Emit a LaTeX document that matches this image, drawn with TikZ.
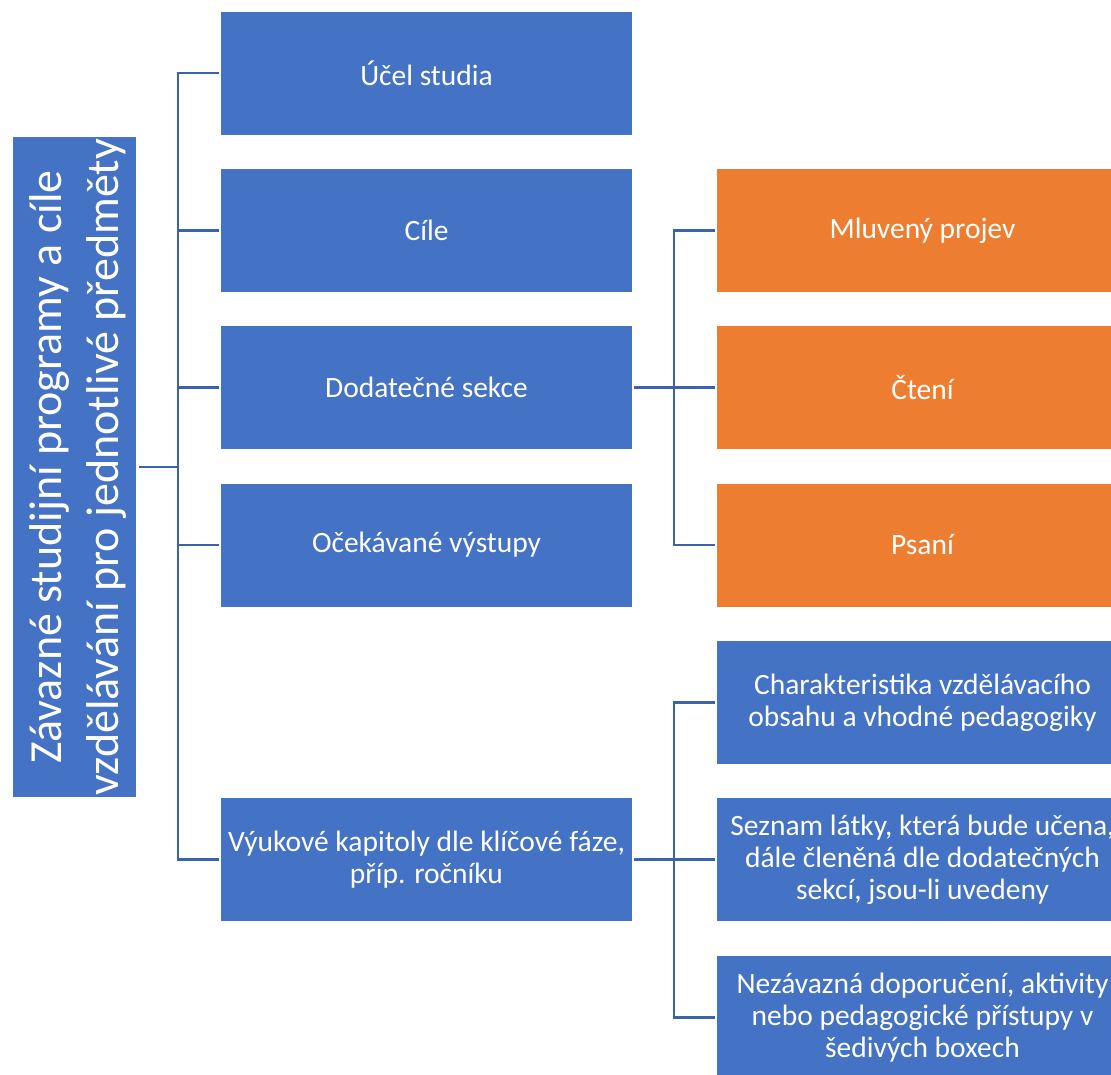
\documentclass[tikz,border=0pt]{standalone}
\usepackage{fontspec}
\setmainfont{Carlito}
\definecolor{boxblue}{HTML}{4472C4}
\definecolor{boxorange}{HTML}{ED7D31}
\definecolor{linkblue}{HTML}{3A62AD}
\begin{document}
\begin{tikzpicture}[x=1pt,y=-1pt,
  box/.style={rectangle, fill=boxblue, text=white, minimum width=411pt,
    minimum height=123pt, inner sep=0pt, align=center,
    font=\fontsize{29.5}{32}\selectfont},
  obox/.style={box, fill=boxorange},
  rootbox/.style={rectangle, fill=boxblue, minimum width=123pt,
    minimum height=660pt, inner sep=0pt},
  roottext/.style={text=white, align=center, inner sep=0pt,
    font=\fontsize{46}{57}\selectfont},
  link/.style={draw=linkblue, line width=2.3pt, shorten >=2pt}]
\useasboundingbox (0,0) rectangle (1111,1074);
\clip (0,0) rectangle (1111,1074);

% root
\node[rootbox] (root) at (74.5,467) {};
\node[roottext, rotate=90] (rootlabel) at ([xshift=3pt]root.center)
  {Závazné studijní programy a cíle\\vzdělávání pro jednotlivé předměty};

% first level
\node[box] (u1) at (426.5,73)    {Účel studia};
\node[box] (u2) at (426.5,230.5) {Cíle};
\node[box] (u3) at (426.5,387.5) {Dodatečné sekce};
\node[box] (u4) at (426.5,545)   {Očekávané výstupy};
\node[box] (u5) at (426.5,859.5) {Výukové kapitoly dle klíčové fáze,\\příp. ročníku};

% second level
\node[obox] (o1) at (922.5,230.5) {Mluvený projev};
\node[obox] (o2) at (922.5,387.5) {Čtení};
\node[obox] (o3) at (922.5,545)   {Psaní};
\node[box] (v1) at (922.5,702.5)  {Charakteristika vzdělávacího\\obsahu a vhodné pedagogiky};
\node[box] (v2) at (922.5,859.5)  {Seznam látky, která bude učena,\\dále členěná dle dodatečných\\sekcí, jsou-li uvedeny};
\node[box] (v3) at (922.5,1017.5) {Nezávazná doporučení, aktivity\\nebo pedagogické přístupy v\\šedivých boxech};

% junction columns
\coordinate (j1) at (178,467);
\coordinate (j2) at (674,467);

% root to first level
\draw[link, shorten >=0pt, shorten <=3pt] (root.east) -- (j1);
\draw[link, shorten <=2pt] (u1.west) -- (u1.west -| j1) -- (u5.west -| j1) -- (u5.west);
\draw[link] (u2.west -| j1) -- (u2.west);
\draw[link] (u3.west -| j1) -- (u3.west);
\draw[link] (u4.west -| j1) -- (u4.west);

% Dodatečné sekce to its parts
\draw[link, shorten <=2pt] (u3.east) -- (o2.west);
\draw[link, shorten <=2pt] (o1.west) -- (o1.west -| j2) -- (o3.west -| j2) -- (o3.west);

% Výukové kapitoly to its parts
\draw[link, shorten <=2pt] (u5.east) -- (v2.west);
\draw[link, shorten <=2pt] (v1.west) -- (v1.west -| j2) -- (v3.west -| j2) -- (v3.west);
\end{tikzpicture}
\end{document}
